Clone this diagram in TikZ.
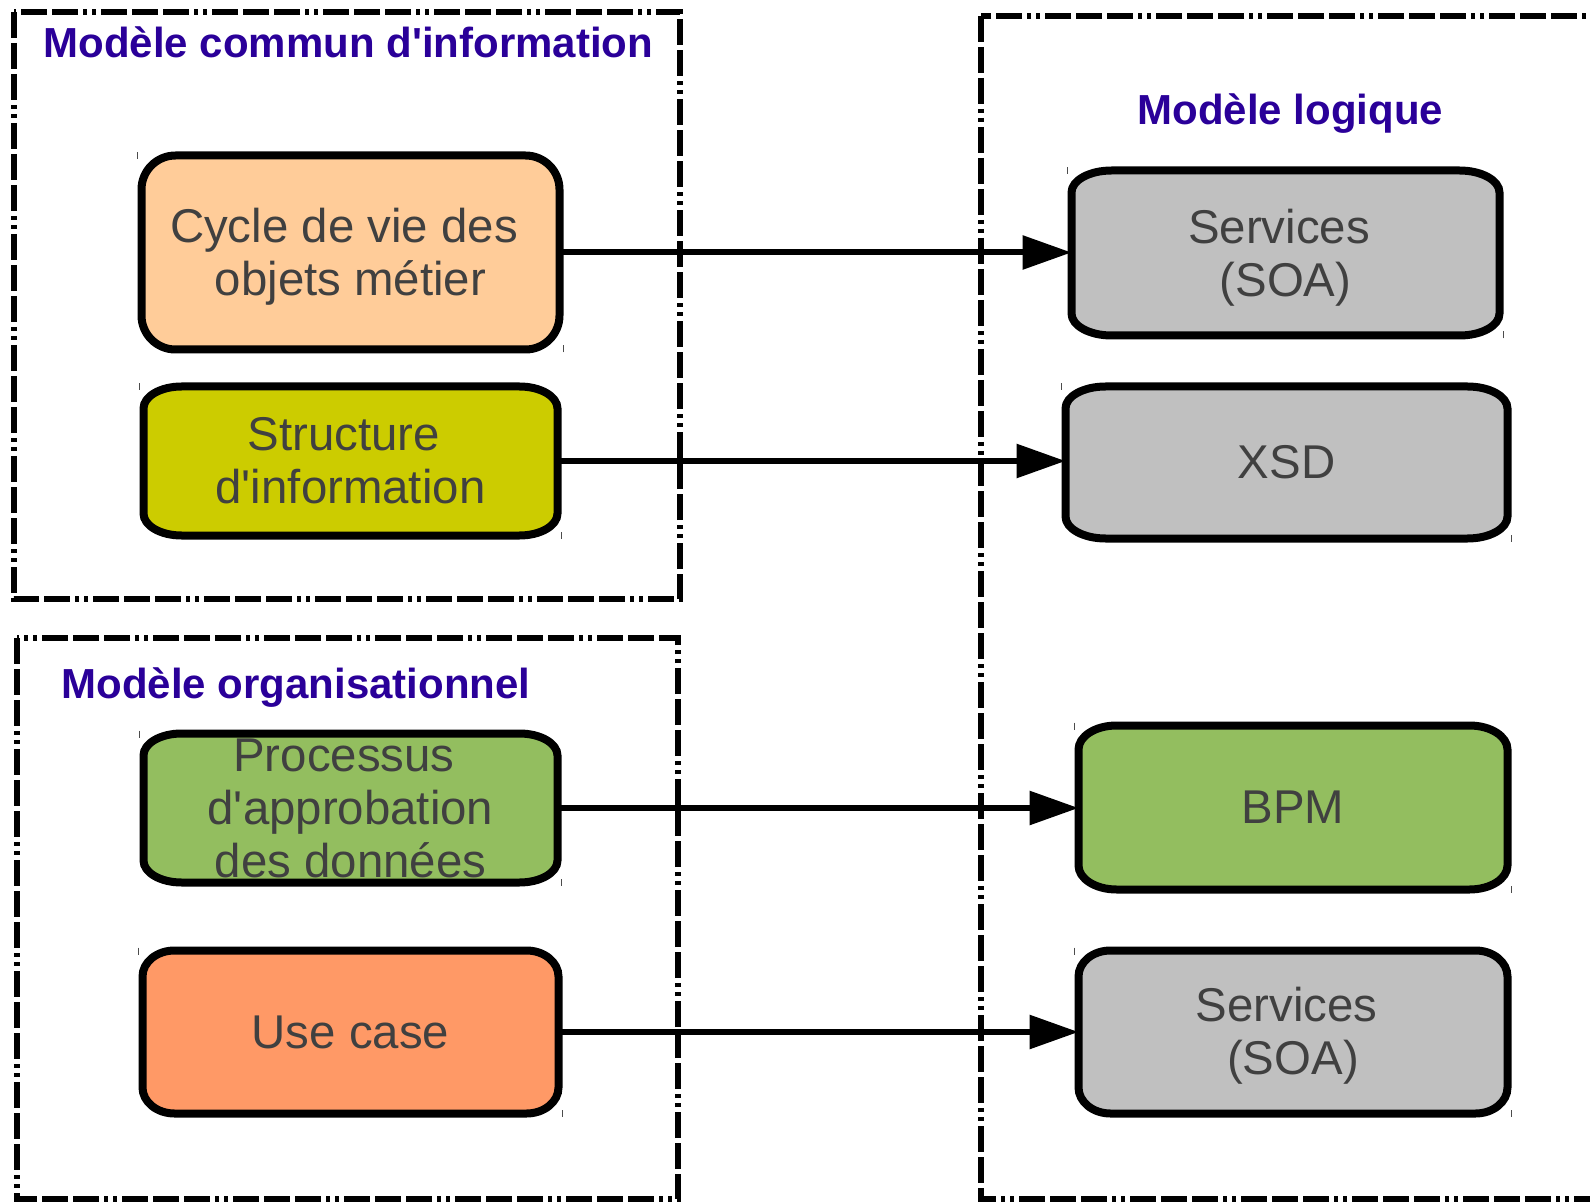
\documentclass[tikz,border=0pt]{standalone}
\usepackage{fontspec}
\setmainfont{Liberation Sans}
\usetikzlibrary{arrows.meta}
\pgfdeclarelayer{background}
\pgfsetlayers{background,main}
\definecolor{titleblue}{RGB}{42,0,153}
\definecolor{txtgray}{RGB}{64,64,64}
\definecolor{peach}{RGB}{255,204,153}
\definecolor{olivey}{RGB}{204,204,0}
\definecolor{leaf}{RGB}{147,190,95}
\definecolor{salmon}{RGB}{255,153,102}
\definecolor{silverg}{RGB}{192,192,192}
\newcommand{\apos}{\textquotesingle}
\newcommand{\tsp}{\hspace*{0.278em}}
% elliptic-corner rounded box around a node: name, x radius, y radius, fill
\newcommand{\ebox}[4]{%
  \draw[boxline, fill=#4] ([xshift=#2]#1.north west) -- ([xshift=-#2]#1.north east)
    arc[start angle=90,end angle=0,x radius=#2,y radius=#3]
    -- ([yshift=#3]#1.south east)
    arc[start angle=0,end angle=-90,x radius=#2,y radius=#3]
    -- ([xshift=#2]#1.south west)
    arc[start angle=270,end angle=180,x radius=#2,y radius=#3]
    -- ([yshift=-#3]#1.north west)
    arc[start angle=180,end angle=90,x radius=#2,y radius=#3] -- cycle;
  \draw[cornertick] ([xshift=-2pt,yshift=1.5pt]#1.north west) -- ++(0,7);
  \draw[cornertick] ([xshift=2pt,yshift=-1.5pt]#1.south east) -- ++(0,-7);}
\begin{document}
\begin{tikzpicture}[x=0.5pt,y=-0.5pt,
  frame/.style={line width=2.75pt, dash pattern=on 13pt off 2.5pt on 13pt off 2.5pt on 13pt off 2.5pt on 2pt off 2.5pt on 2pt off 2.5pt},
  boxline/.style={line width=4pt},
  holder/.style={inner sep=0pt, outer sep=0pt},
  boxtext/.style={text=txtgray, align=center, font=\fontsize{23.7}{26.5}\selectfont, inner sep=0pt},
  titletext/.style={text=titleblue, font=\fontsize{21}{25}\selectfont\bfseries, inner sep=0pt},
  conn/.style={line width=3pt, -{Triangle[length=24.5pt,width=16.5pt]}},
  cornertick/.style={line width=0.4pt, black!70}]
\useasboundingbox (0,0) rectangle (1590,1203);
\clip (0,0) rectangle (1590,1203);

% containers
\draw[frame] (14,12) rectangle (680,599);
\draw[frame] (17,638) rectangle (678,1199);
\draw[frame] (981,16) rectangle (1650,1199);

% titles
\node[titletext, anchor=base west] (tcommun) at (43,58) {Modèle commun d\apos information};
\node[titletext, anchor=base west] (tlogique) at (1137,125) {Modèle logique};
\node[titletext, anchor=base west] (torga) at (61,698) {Modèle organisationnel};

% box holders
\node[holder, minimum width=209pt, minimum height=97pt] (cyc) at (350.5,252.5) {};
\node[holder, minimum width=207pt, minimum height=74.5pt] (struc) at (350.5,461) {};
\node[holder, minimum width=207pt, minimum height=74.5pt] (proc) at (350.5,808) {};
\node[holder, minimum width=208pt, minimum height=81.5pt] (ucase) at (350.5,1032) {};
\node[holder, minimum width=214pt, minimum height=82.5pt] (soa1) at (1285.5,253) {};
\node[holder, minimum width=221pt, minimum height=76pt] (xsd) at (1286.5,462.5) {};
\node[holder, minimum width=214.5pt, minimum height=82pt] (bpm) at (1293,807.5) {};
\node[holder, minimum width=214.5pt, minimum height=81.5pt] (soa2) at (1293,1032) {};

\begin{pgfonlayer}{background}
  \ebox{cyc}{17pt}{17pt}{peach}
  \ebox{struc}{19pt}{11pt}{olivey}
  \ebox{proc}{19pt}{11pt}{leaf}
  \ebox{ucase}{16pt}{13pt}{salmon}
  \ebox{soa1}{20pt}{11pt}{silverg}
  \ebox{xsd}{20pt}{11pt}{silverg}
  \ebox{bpm}{19pt}{12pt}{leaf}
  \ebox{soa2}{16pt}{13pt}{silverg}
\end{pgfonlayer}

% box texts
\node[boxtext] (tcyc) at ([yshift=-2pt]cyc) {Cycle de vie des\tsp\\objets métier};
\node[boxtext] (tstruc) at (struc) {Structure\tsp\\d\apos information};
\node[boxtext] (tproc) at (proc) {Processus\tsp\\d\apos approbation\tsp\\des données};
\node[boxtext] (tucase) at (ucase) {Use case};
\node[boxtext] (tsoa1) at ([yshift=-2.5pt]soa1) {Services\tsp\\(SOA)};
\node[boxtext] (txsd) at (xsd) {XSD};
\node[boxtext] (tbpm) at (bpm) {BPM};
\node[boxtext] (tsoa2) at ([yshift=-2pt]soa2) {Services\tsp\\(SOA)};

% connectors
\draw[conn] (cyc.east) -- (cyc.east -| soa1.west);
\draw[conn] (struc.east) -- (struc.east -| xsd.west);
\draw[conn] (proc.east) -- (proc.east -| bpm.west);
\draw[conn] (ucase.east) -- (ucase.east -| soa2.west);
\end{tikzpicture}
\end{document}
